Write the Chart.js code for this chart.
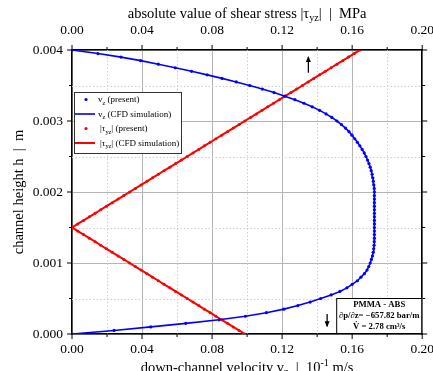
<!DOCTYPE html>
<html><head><meta charset="utf-8">
<script src="https://cdn.jsdelivr.net/npm/chart.js@4.4.1/dist/chart.umd.min.js"></script>
<style>
html,body{margin:0;padding:0;background:#fff;overflow:hidden;width:433px;height:371px}
#wrap{position:absolute;left:0;top:0;width:445px;height:371px}
</style>
</head><body><div id="wrap"><canvas id="c"></canvas></div>
<script>
// channel height h [m]
const heights = [
0.00000,0.00005,0.00010,0.00015,0.00020,0.00025,0.00030,0.00035,0.00040,0.00045,
0.00050,0.00055,0.00060,0.00065,0.00070,0.00075,0.00080,0.00085,0.00090,0.00095,
0.00100,0.00105,0.00110,0.00115,0.00120,0.00125,0.00130,0.00135,0.00140,0.00145,
0.00150,0.00155,0.00160,0.00165,0.00170,0.00175,0.00180,0.00185,0.00190,0.00195,
0.00200,0.00205,0.00210,0.00215,0.00220,0.00225,0.00230,0.00235,0.00240,0.00245,
0.00250,0.00255,0.00260,0.00265,0.00270,0.00275,0.00280,0.00285,0.00290,0.00295,
0.00300,0.00305,0.00310,0.00315,0.00320,0.00325,0.00330,0.00335,0.00340,0.00345,
0.00350,0.00355,0.00360,0.00365,0.00370,0.00375,0.00380,0.00385,0.00390,0.00395,
0.00400];
// down-channel velocity v_z [10^-1 m/s]
const velocity = [
0.0000,0.0240,0.0450,0.0650,0.0840,0.0990,0.1110,0.1210,0.1290,0.1360,
0.1420,0.1480,0.1530,0.1570,0.1600,0.1630,0.1650,0.1670,0.1685,0.1695,
0.1703,0.1710,0.1716,0.1720,0.1723,0.1725,0.1726,0.1727,0.1727,0.1727,
0.1727,0.1727,0.1727,0.1727,0.1727,0.1727,0.1727,0.1727,0.1727,0.1727,
0.1727,0.1726,0.1724,0.1721,0.1718,0.1714,0.1709,0.1703,0.1696,0.1688,
0.1679,0.1669,0.1657,0.1644,0.1630,0.1615,0.1599,0.1582,0.1562,0.1539,
0.1513,0.1484,0.1451,0.1414,0.1372,0.1325,0.1273,0.1216,0.1154,0.1087,
0.1015,0.0938,0.0857,0.0772,0.0683,0.0590,0.0493,0.0392,0.0280,0.0148,
0.0000];
// absolute shear stress |tau_yz| [MPa]
const shearStress = [
0.0987,0.0954,0.0921,0.0888,0.0855,0.0822,0.0789,0.0756,0.0724,0.0691,
0.0658,0.0625,0.0592,0.0559,0.0526,0.0493,0.0460,0.0428,0.0395,0.0362,
0.0329,0.0296,0.0263,0.0230,0.0197,0.0164,0.0132,0.0099,0.0066,0.0033,
0.0000,0.0033,0.0066,0.0099,0.0132,0.0164,0.0197,0.0230,0.0263,0.0296,
0.0329,0.0362,0.0395,0.0428,0.0460,0.0493,0.0526,0.0559,0.0592,0.0625,
0.0658,0.0691,0.0724,0.0756,0.0789,0.0822,0.0855,0.0888,0.0921,0.0954,
0.0987,0.1020,0.1053,0.1085,0.1118,0.1151,0.1184,0.1217,0.1250,0.1283,
0.1316,0.1349,0.1381,0.1414,0.1447,0.1480,0.1513,0.1546,0.1579,0.1612,
0.1645];

const seriesLabels = ['v_{z} (present)','v_{z} (CFD simulation)','|τ_{yz}| (present)','|τ_{yz}| (CFD simulation)'];
const xTitle = 'down-channel velocity v_{z}  |  10^{-1} m/s';
const x2Title = 'absolute value of shear stress |τ_{yz}|  |  MPa';
const yTitle = 'channel height h  |  m';
const noteLines = ['PMMA - ABS','∂p/∂z= −657.82 bar/m','V\u0307 = 2.78 cm³/s'];

const SERIF = '"Liberation Serif","Times New Roman",serif';
const BLUE = '#0000ff', RED = '#ff0000';

const velPts = heights.map((h,i)=>({x:velocity[i], y:h}));
const tauPts = heights.map((h,i)=>({x:shearStress[i], y:h}));

const isMajorX = v => Math.abs(v/0.04 - Math.round(v/0.04)) < 1e-6;
const isMajorY = v => Math.abs(v/0.001 - Math.round(v/0.001)) < 1e-6;

function segs(str){
  const out=[]; const re=/(_|\^)\{([^}]*)\}/g; let last=0,m;
  while((m=re.exec(str))){ if(m.index>last) out.push({t:str.slice(last,m.index),k:'n'}); out.push({t:m[2],k:m[1]==='_'?'sub':'sup'}); last=re.lastIndex; }
  if(last<str.length) out.push({t:str.slice(last),k:'n'});
  return out;
}
function drawRich(ctx,str,x,yc,size,align,bold){
  const s=segs(str); const w=[];
  let total=0;
  s.forEach(p=>{ const fs = p.k==='n'?size:size*0.7; ctx.font=(bold?'bold ':'')+fs+'px '+SERIF; const ww=ctx.measureText(p.t).width; w.push(ww); total+=ww; });
  let cx = align==='center'? x-total/2 : x;
  const base = yc + size*0.33;
  ctx.textBaseline='alphabetic'; ctx.textAlign='left';
  s.forEach((p,i)=>{ const fs = p.k==='n'?size:size*0.7; ctx.font=(bold?'bold ':'')+fs+'px '+SERIF;
    const dy = p.k==='sub'? size*0.25 : (p.k==='sup'? -size*0.38 : 0);
    ctx.fillText(p.t,cx,base+dy); cx+=w[i]; });
}

const decor = {
  id:'decor',
  beforeDatasetsDraw(chart){
    const {ctx,chartArea:a,scales} = chart;
    ctx.save();
    ctx.strokeStyle='#cfcfcf'; ctx.lineWidth=1; ctx.setLineDash([1.5,2]);
    scales.x.ticks.forEach(t=>{ if(isMajorX(t.value)||t.value<=0||t.value>=0.2) return; const px=Math.round(scales.x.getPixelForValue(t.value))+0.5; ctx.beginPath(); ctx.moveTo(px,a.top); ctx.lineTo(px,a.bottom); ctx.stroke(); });
    scales.y.ticks.forEach(t=>{ if(isMajorY(t.value)||t.value<=0||t.value>=0.004) return; const py=Math.round(scales.y.getPixelForValue(t.value))+0.5; ctx.beginPath(); ctx.moveTo(a.left,py); ctx.lineTo(a.right,py); ctx.stroke(); });
    ctx.restore();
  },
  afterDraw(chart){
    const {ctx,chartArea:a,scales} = chart;
    ctx.save();
    ctx.fillStyle='#000'; ctx.strokeStyle='#000'; ctx.lineWidth=1; ctx.setLineDash([]);
    // tick marks (outward)
    const tk=(sc,fn,isMaj)=>sc.ticks.forEach(t=>fn(sc.getPixelForValue(t.value), isMaj(t.value)?5:3));
    tk(scales.x,(p,l)=>{ctx.beginPath();ctx.moveTo(p,a.bottom);ctx.lineTo(p,a.bottom+l);ctx.stroke();},isMajorX);
    tk(scales.x2,(p,l)=>{ctx.beginPath();ctx.moveTo(p,a.top);ctx.lineTo(p,a.top-l);ctx.stroke();},isMajorX);
    tk(scales.y,(p,l)=>{ctx.beginPath();ctx.moveTo(a.left,p);ctx.lineTo(a.left-l,p);ctx.stroke();},isMajorY);
    tk(scales.y2,(p,l)=>{ctx.beginPath();ctx.moveTo(a.right,p);ctx.lineTo(a.right+l,p);ctx.stroke();},isMajorY);
    // axis titles
    const cx=(a.left+a.right)/2;
    drawRich(ctx,xTitle,cx,a.bottom+33,14.5,'center',false);
    drawRich(ctx,x2Title,cx,a.top-37,14.5,'center',false);
    ctx.save(); ctx.translate(a.left-54,(a.top+a.bottom)/2); ctx.rotate(-Math.PI/2);
    drawRich(ctx,yTitle,0,0,14.5,'center',false); ctx.restore();
    // legend
    const lx=a.left+2, ly=a.top+42, lw=107, lh=61;
    ctx.fillStyle='#fff'; ctx.fillRect(lx,ly,lw,lh);
    ctx.strokeStyle='#333'; ctx.lineWidth=1; ctx.strokeRect(lx+0.5,ly+0.5,lw,lh);
    chart.data.datasets.forEach((ds,i)=>{
      const ry = ly+7.5+i*14.5;
      if(ds.showLine){ ctx.strokeStyle=ds.borderColor; ctx.lineWidth=ds.borderWidth; ctx.beginPath(); ctx.moveTo(lx+1,ry); ctx.lineTo(lx+21,ry); ctx.stroke(); }
      else { ctx.fillStyle=ds.pointBackgroundColor; ctx.beginPath(); ctx.arc(lx+12,ry,1.6,0,Math.PI*2); ctx.fill(); }
      ctx.fillStyle='#000';
      drawRich(ctx,ds.label,lx+24+(i>=2?2:0),ry,9,'left',false);
    });
    // note box
    const nx=a.right-86, ny=a.bottom-36, nw=86, nh=35;
    ctx.fillStyle='#fff'; ctx.fillRect(nx,ny,nw,nh);
    ctx.strokeStyle='#000'; ctx.lineWidth=1; ctx.strokeRect(nx+0.5,ny+0.5,nw-1,nh);
    ctx.fillStyle='#000';
    noteLines.forEach((t,i)=>drawRich(ctx,t,nx+nw/2,ny+6+i*11,8.7,'center',true));
    // arrows
    const arrow=(x,y1,y2)=>{ ctx.strokeStyle='#000'; ctx.fillStyle='#000'; ctx.lineWidth=1.3;
      ctx.beginPath(); ctx.moveTo(x,y1); ctx.lineTo(x,y2); ctx.stroke();
      const d = y2<y1?-1:1; ctx.beginPath(); ctx.moveTo(x,y2+d*1); ctx.lineTo(x-2.5,y2-d*5); ctx.lineTo(x+2.5,y2-d*5); ctx.closePath(); ctx.fill(); };
    arrow(scales.x2.getPixelForValue(0.135), scales.y.getPixelForValue(0.00368), scales.y.getPixelForValue(0.0039));
    arrow(scales.x.getPixelForValue(0.1457), scales.y.getPixelForValue(0.00028), scales.y.getPixelForValue(0.00011));
    ctx.restore();
  }
};

const tickFont = {family:SERIF, size:13.5};
new Chart(document.getElementById('c'),{
  type:'scatter',
  data:{datasets:[
    {label:seriesLabels[0],data:velPts,showLine:false,pointRadius:1.6,pointBackgroundColor:BLUE,pointBorderWidth:0,xAxisID:'x',yAxisID:'y'},
    {label:seriesLabels[1],data:velPts,showLine:true,borderColor:BLUE,borderWidth:1.6,pointRadius:0,xAxisID:'x',yAxisID:'y'},
    {label:seriesLabels[2],data:tauPts,showLine:false,pointRadius:1.5,pointBackgroundColor:RED,pointBorderWidth:0,xAxisID:'x2',yAxisID:'y'},
    {label:seriesLabels[3],data:tauPts,showLine:true,borderColor:RED,borderWidth:2,pointRadius:0,xAxisID:'x2',yAxisID:'y'}
  ]},
  options:{
    responsive:true, maintainAspectRatio:false, animation:false, devicePixelRatio:1,
    layout:{padding:0},
    plugins:{legend:{display:false},tooltip:{enabled:false}},
    scales:{
      x:{type:'linear',position:'bottom',min:0,max:0.2,
         afterFit:s=>{s.height=37;},
         ticks:{stepSize:0.02,autoSkip:false,maxRotation:0,color:'#000',font:tickFont,padding:7,callback:v=>isMajorX(v)?v.toFixed(2):''},
         grid:{drawTicks:false,color:c=>(c.tick&&isMajorX(c.tick.value))?'#b4b4b4':'rgba(0,0,0,0)',lineWidth:1},
         border:{color:'#000',width:1.5}},
      x2:{type:'linear',position:'top',min:0,max:0.2,
         afterFit:s=>{s.height=50;},
         ticks:{stepSize:0.02,autoSkip:false,maxRotation:0,color:'#000',font:tickFont,padding:11,callback:v=>isMajorX(v)?v.toFixed(2):''},
         grid:{drawTicks:false,drawOnChartArea:false},
         border:{color:'#000',width:1.5}},
      y:{type:'linear',position:'left',min:0,max:0.004,
         afterFit:s=>{s.width=72;},
         ticks:{stepSize:0.0005,autoSkip:false,color:'#000',font:tickFont,padding:9,callback:v=>isMajorY(v)?v.toFixed(3):''},
         grid:{drawTicks:false,color:c=>(c.tick&&isMajorY(c.tick.value))?'#b4b4b4':'rgba(0,0,0,0)',lineWidth:1},
         border:{color:'#000',width:1.5}},
      y2:{type:'linear',position:'right',min:0,max:0.004,
         afterFit:s=>{s.width=17;},
         ticks:{stepSize:0.0005,display:false},
         grid:{drawTicks:false,drawOnChartArea:false},
         border:{color:'#000',width:1.5}}
    }
  },
  plugins:[decor]
});
</script>
</body></html>
